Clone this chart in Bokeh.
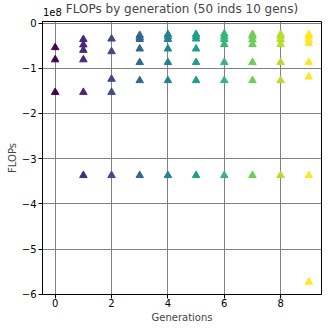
from bokeh.plotting import figure
from bokeh.models import (ColumnDataSource, Range1d, SingleIntervalTicker, CustomJSTickFormatter,
                          LinearAxis, FixedTicker)
from bokeh.embed import file_html
from bokeh.resources import INLINE

# FLOPs per generation (distinct values)
gen0 = [-0.54e8, -0.81e8, -1.53e8]
gen1 = [-0.36e8, -0.48e8, -0.60e8, -0.81e8, -1.53e8, -3.37e8]
gen2 = [-0.35e8, -0.63e8, -1.24e8, -1.53e8, -3.37e8]
gen3 = [-0.27e8, -0.32e8, -0.36e8, -0.57e8, -0.87e8, -1.27e8, -3.37e8]
gen4 = [-0.25e8, -0.30e8, -0.36e8, -0.57e8, -0.87e8, -1.27e8, -3.37e8]
gen5 = [-0.25e8, -0.30e8, -0.35e8, -0.57e8, -0.87e8, -1.27e8, -3.37e8]
gen6 = [-0.24e8, -0.30e8, -0.36e8, -0.47e8, -0.87e8, -1.27e8, -3.37e8]
gen7 = [-0.25e8, -0.30e8, -0.37e8, -0.47e8, -0.87e8, -1.27e8, -3.37e8]
gen8 = [-0.25e8, -0.30e8, -0.37e8, -0.47e8, -0.87e8, -1.27e8, -3.37e8]
gen9 = [-0.25e8, -0.30e8, -0.37e8, -0.45e8, -0.87e8, -1.19e8, -3.37e8, -5.73e8]
generations = [gen0, gen1, gen2, gen3, gen4, gen5, gen6, gen7, gen8, gen9]
viridis10 = ["#440154", "#482878", "#3e4989", "#31688e", "#26828e",
             "#1f9e89", "#35b779", "#6ece58", "#b5de2b", "#fde725"]
offset_text = "1e8"

xs, ys, cs = [], [], []
for g, vals in enumerate(generations):
    for v in vals:
        xs.append(g)
        ys.append(v)
        cs.append(viridis10[g])
src = ColumnDataSource(dict(x=xs, y=ys, c=cs))

FONT = "DejaVu Sans"
p = figure(output_backend="svg", toolbar_location=None,
           frame_width=279, frame_height=273,
           min_border_left=42, min_border_right=2, min_border_top=21, min_border_bottom=29,
           x_range=Range1d(-0.45, 9.45), y_range=Range1d(-6.0045e8, 0.0345e8),
           title="FLOPs by generation (50 inds 10 gens)")
p.title.align = "center"
p.title.text_font = FONT
p.title.text_font_size = "12px"
p.title.text_font_style = "normal"
p.title.standoff = -22

p.scatter("x", "y", source=src, marker="triangle", size=7.5,
          fill_color="c", line_color="c")

p.xaxis.ticker = SingleIntervalTicker(interval=2, num_minor_ticks=0)
p.yaxis.ticker = SingleIntervalTicker(interval=1e8, num_minor_ticks=0)
p.yaxis.formatter = CustomJSTickFormatter(code="""
    const v = Math.round(tick / 1e8);
    return v < 0 ? '\u2212' + Math.abs(v) : String(Math.abs(v));
""")
p.xaxis.axis_label = "Generations"
p.yaxis.axis_label = "FLOPs"
for ax in (p.xaxis, p.yaxis):
    ax.axis_label_text_font = FONT
    ax.axis_label_text_font_size = "10px"
    ax.axis_label_text_font_style = "normal"
    ax.major_label_text_font = FONT
    ax.major_label_text_font_size = "10px"
    ax.major_label_text_color = "black"
    ax.axis_line_color = "black"
    ax.major_tick_line_color = "black"
    ax.major_tick_in = 0
    ax.major_tick_out = 4
    ax.minor_tick_line_color = None
    ax.major_label_standoff = 2
p.xaxis.major_label_standoff = 0
p.xaxis.axis_label_standoff = 2
p.yaxis.axis_label_standoff = 1

# offset text "1e8" above the top-left corner of the frame
top_ax = LinearAxis(ticker=FixedTicker(ticks=[-0.1]),
                    formatter=CustomJSTickFormatter(code=f"return '{offset_text}';"),
                    axis_line_color=None, major_tick_line_color=None,
                    minor_tick_line_color=None, major_label_standoff=0,
                    major_label_text_font=FONT, major_label_text_font_size="10px",
                    major_label_text_color="black")
p.add_layout(top_ax, "above")

p.grid.grid_line_color = "#808080"
p.grid.grid_line_width = 1
p.outline_line_color = "black"
p.outline_line_width = 1
p.outline_line_alpha = 1

open("out.html", "w").write(file_html(p, INLINE))
